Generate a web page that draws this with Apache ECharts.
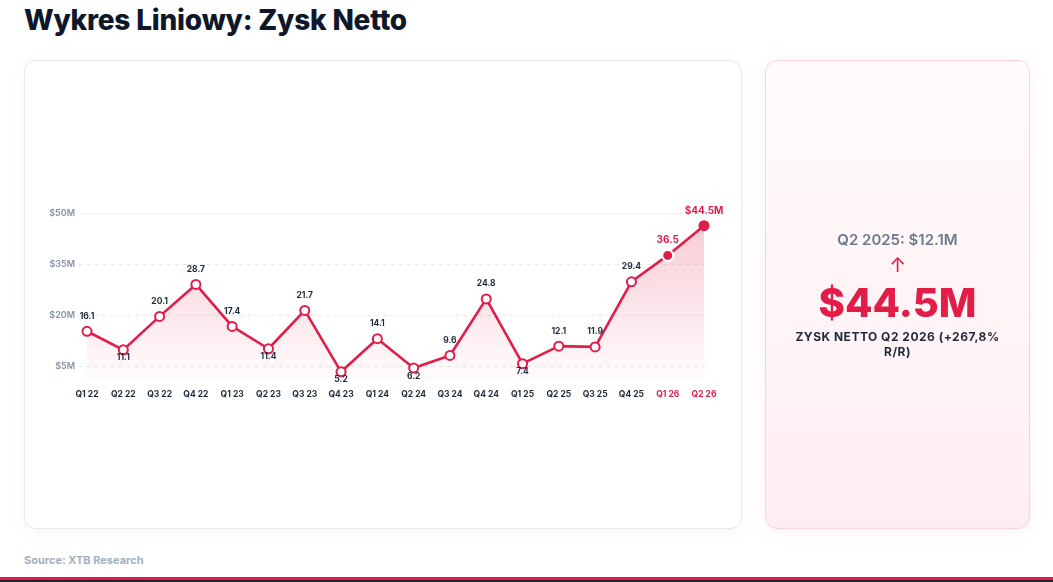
<!DOCTYPE html>
<html lang="pl">
<head>
<meta charset="utf-8">
<title>Wykres Liniowy: Zysk Netto</title>
<script src="https://cdn.jsdelivr.net/npm/echarts@6/dist/echarts.min.js"></script>
<style>
  html, body { margin: 0; padding: 0; }
  body { width: 1053px; height: 582px; position: relative; overflow: hidden; background: #fff; font-family: Inter, "Noto Sans", sans-serif; }
  .title { position: absolute; left: 24px; top: 3px; font-size: 28px; line-height: 34px; font-weight: 800; color: #0f172a; letter-spacing: -0.2px; }
  .card { position: absolute; left: 24px; top: 60px; width: 718px; height: 469px; box-sizing: border-box; border: 1px solid #e6e9ef; border-radius: 12px; background: #fff; box-shadow: 0 4px 18px rgba(15, 23, 42, 0.04); }
  #chart { position: absolute; left: -1px; top: -1px; width: 718px; height: 469px; }
  .kpi { position: absolute; left: 765px; top: 60px; width: 265px; height: 469px; box-sizing: border-box; border: 1px solid #fcd3d9; border-radius: 12px; background: linear-gradient(180deg, #fffbfc 0%, #ffeef1 100%); box-shadow: 0 4px 18px rgba(225, 29, 72, 0.05); display: flex; flex-direction: column; align-items: center; justify-content: center; text-align: center; }
  .kpi-prev { font-size: 15px; line-height: 18px; font-weight: 600; color: #6b7a90; }
  .kpi-arrow { margin-top: 6px; font-size: 20px; line-height: 20px; color: #e11d48; }
  .kpi-value { margin-top: 6px; font-size: 40px; line-height: 44px; font-weight: 800; color: #e11d48; }
  .kpi-sub { margin-top: 4px; font-size: 12px; line-height: 15px; font-weight: 700; color: #1e293b; letter-spacing: 0.5px; white-space: nowrap; }
  .source { position: absolute; left: 24px; top: 552px; font-size: 11px; line-height: 16px; font-weight: 700; color: #a3afc1; }
  .bar { position: absolute; left: 0; bottom: 0; width: 100%; height: 5px; background: #e11d48; border-bottom: 2px solid #1f1f2e; box-sizing: border-box; }
</style>
</head>
<body>
<div class="title">Wykres Liniowy: Zysk Netto</div>
<div class="card"><div id="chart"></div></div>
<div class="kpi">
  <div class="kpi-prev">Q2 2025: $12.1M</div>
  <div class="kpi-arrow">↑</div>
  <div class="kpi-value">$44.5M</div>
  <div class="kpi-sub">ZYSK NETTO Q2 2026 (+267,8%<br>R/R)</div>
</div>
<div class="source">Source: XTB Research</div>
<div class="bar"></div>
<script>
const quarters = ["Q1 22", "Q2 22", "Q3 22", "Q4 22", "Q1 23", "Q2 23", "Q3 23", "Q4 23", "Q1 24", "Q2 24", "Q3 24", "Q4 24", "Q1 25", "Q2 25", "Q3 25", "Q4 25", "Q1 26", "Q2 26"];
const netProfit = [16.1, 11.1, 20.1, 28.7, 17.4, 11.4, 21.7, 5.2, 14.1, 6.2, 9.6, 24.8, 7.4, 12.1, 11.9, 29.4, 36.5, 44.5];
const yTickLabels = [5, 20, 35, 50];
const forecastQuarters = ["Q1 26", "Q2 26"];
const labelsBelow = ["Q2 22", "Q2 23", "Q4 23", "Q2 24", "Q1 25"];

const RED = "#e11d48";
const INK = "#1e293b";
const FONT = "Inter, 'Noto Sans', sans-serif";

const points = netProfit.map((value, i) => {
  const q = quarters[i];
  const last = i === quarters.length - 1;
  const item = { value };
  if (forecastQuarters.includes(q)) {
    item.symbolSize = 11;
    item.itemStyle = { color: RED, borderColor: last ? RED : "#fff", borderWidth: last ? 0 : 2 };
    item.label = { color: RED, fontSize: 10, distance: 4, formatter: last ? "$" + value + "M" : String(value) };
  } else if (labelsBelow.includes(q)) {
    item.label = { position: "bottom", distance: -2 };
  }
  return item;
});

const chart = echarts.init(document.getElementById("chart"), null, { renderer: "canvas" });
chart.setOption({
  animation: false,
  backgroundColor: "transparent",
  grid: [
    { left: 55, right: 37, top: 153, bottom: 149 },
    { left: 63, right: 38, top: 153, bottom: 149 }
  ],
  xAxis: [
    { gridIndex: 0, type: "category", data: quarters, show: false },
    {
      gridIndex: 1,
      type: "category",
      data: quarters,
      boundaryGap: false,
      axisLine: { show: false },
      axisTick: { show: false },
      axisLabel: {
        margin: 10,
        fontFamily: FONT,
        fontSize: 8.5,
        fontWeight: 700,
        color: (v) => forecastQuarters.includes(v) ? RED : INK
      }
    }
  ],
  yAxis: [
    {
      gridIndex: 0,
      type: "value",
      min: 0.88,
      max: 50,
      axisLine: { show: false },
      axisTick: { show: false, customValues: yTickLabels },
      axisLabel: {
        customValues: yTickLabels,
        margin: 4,
        fontFamily: FONT,
        fontSize: 9,
        fontWeight: 600,
        color: "#8692a6",
        formatter: (v) => "$" + v + "M"
      },
      splitLine: { show: true, lineStyle: { color: "#e7e9ee", type: [4, 4], width: 1 } }
    },
    {
      gridIndex: 1,
      type: "value",
      min: 3,
      max: 47.9,
      show: false,
      splitLine: { show: false }
    }
  ],
  series: [{
    type: "line",
    xAxisIndex: 1,
    yAxisIndex: 1,
    data: points,
    symbol: "circle",
    symbolSize: 9,
    lineStyle: { color: RED, width: 2.6 },
    itemStyle: { color: "#fff", borderColor: RED, borderWidth: 2 },
    areaStyle: {
      origin: "start",
      color: new echarts.graphic.LinearGradient(0, 0, 0, 1, [
        { offset: 0, color: "rgba(225, 29, 72, 0.32)" },
        { offset: 1, color: "rgba(225, 29, 72, 0.02)" }
      ])
    },
    label: {
      show: true,
      position: "top",
      distance: 5,
      fontFamily: FONT,
      fontSize: 8.5,
      fontWeight: 700,
      color: INK
    }
  }]
});
</script>
</body>
</html>
